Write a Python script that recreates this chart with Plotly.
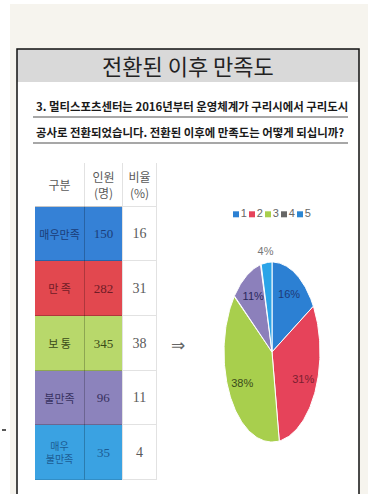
import numpy as np
import plotly.graph_objects as go

# ---------------- data ----------------
TITLE = "전환된 이후 만족도"
QUESTION = ["3. 멀티스포츠센터는 2016년부터 운영체계가 구리시에서 구리도시",
            "공사로 전환되었습니다. 전환된 이후에 만족도는 어떻게 되십니까?"]
HEADERS = ["구분", "인원<br>(명)", "비율<br>(%)"]
CATEGORIES = ["매우만족", "만 족", "보 통", "불만족", "매우<br>불만족"]
COUNTS = [150, 282, 345, 96, 35]
PERCENTS = [16, 31, 38, 11, 4]
LEGEND_LABELS = ["1", "2", "3", "4", "5"]

# ---------------- style ----------------
W, H = 368, 494
ROW_COLORS = ["#3581d6", "#e2484f", "#b8d86b", "#8c83bc", "#3aa2e2"]
ROW_TEXT = ["#1b3d78", "#6e1c26", "#3a4a18", "#37315f", "#1c5c94"]
CAT_SIZE = [11, 11, 11, 11, 10]
PIE_COLORS = ["#2c80d3", "#e6435a", "#a8cf4d", "#8c80bb", "#2ba4e8"]
PIE_TEXT = ["#1e3a78", "#7a1f30", "#3b4a1a", "#2a285c", "#777777"]
LEGEND_COLORS = ["#2c80d3", "#e6435a", "#a8cf4d", "#666666", "#2c86d3"]
COL_W = [50, 38, 34]
HEADER_H, ROW_H = 0.8, 1.0
KR = "Noto Sans CJK KR"
SERIF = "Liberation Serif"


def px(x):
    return x / W


def py(y):
    return 1 - y / H


fig = go.Figure()

# ---------------- table (stacked bars as cells) ----------------
col_centers = list(np.cumsum(COL_W) - np.array(COL_W) / 2)
fig.add_trace(go.Bar(
    x=col_centers, y=[HEADER_H] * 3, width=COL_W,
    marker=dict(color=["white"] * 3, line=dict(color="#e2e2e2", width=1)),
    text=HEADERS, textposition="inside", insidetextanchor="middle", textangle=0,
    textfont=dict(color="#5a5a5a", family=KR, size=12),
    xaxis="x2", yaxis="y2", hoverinfo="skip", showlegend=False))
for i, (cat, cnt, pct) in enumerate(zip(CATEGORIES, COUNTS, PERCENTS)):
    c = ROW_COLORS[i]
    fig.add_trace(go.Bar(
        x=col_centers, y=[ROW_H] * 3, width=COL_W,
        marker=dict(color=[c, c, "white"],
                    line=dict(color=["rgba(0,0,0,0.12)", "rgba(0,0,0,0.12)", "#e2e2e2"], width=1)),
        text=[cat, str(cnt), str(pct)], textposition="inside",
        insidetextanchor="middle", textangle=0,
        textfont=dict(color=[ROW_TEXT[i], ROW_TEXT[i], "#5a5a5a"],
                      family=[KR, SERIF, SERIF], size=[CAT_SIZE[i], 13, 14]),
        xaxis="x2", yaxis="y2", hoverinfo="skip", showlegend=False))

# ---------------- elliptical pie ----------------
vals = np.array(COUNTS, dtype=float)
fr = vals / vals.sum()
cum = np.concatenate([[0], np.cumsum(fr)])
for i in range(len(vals)):
    th = np.linspace(cum[i], cum[i + 1], 80) * 2 * np.pi
    xs = np.concatenate([[0], np.sin(th), [0]])
    ys = np.concatenate([[0], np.cos(th), [0]])
    fig.add_trace(go.Scatter(x=xs, y=ys, mode="lines", fill="toself",
                             fillcolor=PIE_COLORS[i], line=dict(color="white", width=1),
                             hoverinfo="skip", showlegend=False))
mid = (cum[:-1] + cum[1:]) / 2 * 2 * np.pi
r = np.where(fr < 0.05, 1.12, 0.72)
fig.add_trace(go.Scatter(
    x=r * np.sin(mid), y=r * np.cos(mid), mode="text",
    text=[f"{p}%" for p in PERCENTS],
    textfont=dict(color=PIE_TEXT, family="Liberation Sans Narrow, Liberation Sans", size=11),
    hoverinfo="skip", showlegend=False))
# legend row
lx = -0.75 + np.arange(len(LEGEND_LABELS)) / 3
fig.add_trace(go.Scatter(
    x=lx, y=[1.53] * len(lx), mode="markers+text",
    marker=dict(symbol="square", size=6, color=LEGEND_COLORS),
    text=LEGEND_LABELS, textposition="middle right",
    textfont=dict(color="#666666", family="Liberation Sans", size=11),
    hoverinfo="skip", showlegend=False, cliponaxis=False))

# ---------------- decorations ----------------
shapes = [
    dict(type="rect", xref="paper", yref="paper", x0=px(10), x1=px(368), y0=py(494), y1=py(4),
         fillcolor="#f6f4ee", line=dict(width=0), layer="below"),
    dict(type="rect", xref="paper", yref="paper", x0=px(17), x1=px(359), y0=py(510), y1=py(49),
         fillcolor="white", line=dict(width=0), layer="below"),
    dict(type="rect", xref="paper", yref="paper", x0=px(17), x1=px(359), y0=py(82), y1=py(49),
         fillcolor="#d9d9d9", line=dict(width=0), layer="below"),
    dict(type="rect", xref="paper", yref="paper", x0=px(17), x1=px(359), y0=py(510), y1=py(49),
         fillcolor="rgba(0,0,0,0)", line=dict(color="#111111", width=1.5), layer="below"),
    dict(type="line", xref="paper", yref="paper", x0=px(33), x1=px(348), y0=py(117), y1=py(117),
         line=dict(color="#8a8a8a", width=1.5)),
    dict(type="line", xref="paper", yref="paper", x0=px(33), x1=px(348), y0=py(143), y1=py(143),
         line=dict(color="#8a8a8a", width=1.5)),
    dict(type="line", xref="paper", yref="paper", x0=px(2), x1=px(6), y0=py(430), y1=py(430),
         line=dict(color="#222222", width=1.5)),
]


def ann(text, x, y, size, family=KR, color="#1a1a1a", xanchor="center"):
    return dict(text=text, x=px(x), y=py(y), xref="paper", yref="paper", showarrow=False,
                xanchor=xanchor, yanchor="middle", font=dict(family=family, size=size, color=color))


annotations = [
    ann(TITLE, 188, 65, 22, color="#222222"),
    ann(f"<b>{QUESTION[0]}</b>", 34, 106, 11.4, xanchor="left"),
    ann(f"<b>{QUESTION[1]}</b>", 34, 132, 11.4, xanchor="left"),
    ann("⇒", 178, 345, 17, family="DejaVu Sans", color="#666666"),
]

hidden = dict(visible=False, showgrid=False, zeroline=False, fixedrange=True)
fig.update_layout(
    width=W, height=H, margin=dict(l=0, r=0, t=0, b=0),
    paper_bgcolor="white", plot_bgcolor="rgba(0,0,0,0)",
    barmode="stack", bargap=0,
    xaxis=dict(domain=[px(176), 1.0], range=[-2, 2], **hidden),
    yaxis=dict(domain=[py(460), py(190)], range=[-1.2, 1.8], **hidden),
    xaxis2=dict(domain=[px(35), px(157)], range=[0, sum(COL_W)], anchor="y2", **hidden),
    yaxis2=dict(domain=[py(480), py(163)],
                range=[HEADER_H + ROW_H * len(COUNTS), 0], anchor="x2", **hidden),
    shapes=shapes, annotations=annotations, showlegend=False,
)
fig.write_html("out.html", config={"displayModeBar": False},
               post_script="document.body.style.margin='0';document.body.style.overflow='hidden';")
